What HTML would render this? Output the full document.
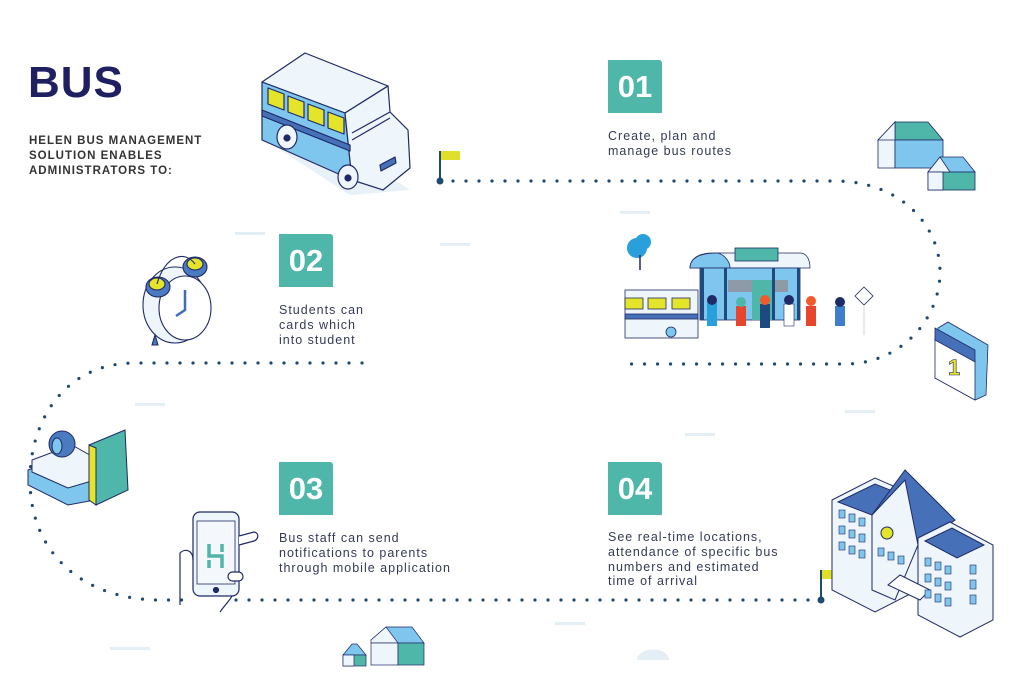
<!DOCTYPE html>
<html><head><meta charset="utf-8"><style>
html,body{margin:0;padding:0;background:#fff;width:1024px;height:676px;overflow:hidden;position:relative;font-family:"Liberation Sans",sans-serif}
.t{position:absolute;color:#353a58;font-size:12.5px;letter-spacing:1px;line-height:14.8px;white-space:nowrap}
.box{position:absolute;width:54px;height:53px;background:#4fb6aa;color:#fff;font-size:31px;font-weight:bold;text-align:center;line-height:53px;border-radius:0 3px 0 0}
</style></head><body>
<svg width="1024" height="676" style="position:absolute;left:0;top:0">
<g fill="none" stroke="#1d4a70" stroke-width="3.2" stroke-linecap="round" stroke-dasharray="0 13">
<path d="M453,181 H835 C900,181 940,225 940,272 C940,320 900,364 845,364 H627"/>
<path d="M362,363 H135 C65,363 30,420 30,480 C30,555 85,600 160,600 H182"/>
<path d="M236,600 H816"/>
</g>
<line x1="440" y1="151" x2="440" y2="181" stroke="#1d4a70" stroke-width="2"/><rect x="441" y="151" width="19" height="9" fill="#dfe02a"/><circle cx="440" cy="181" r="3.5" fill="#1d4a70"/>
<line x1="821" y1="570" x2="821" y2="600" stroke="#1d4a70" stroke-width="2"/><rect x="822" y="570" width="19" height="9" fill="#dfe02a"/><circle cx="821" cy="600" r="3.5" fill="#1d4a70"/>
<g fill="#e3eef5"><rect x="235" y="232" width="30" height="3"/><rect x="440" y="243" width="30" height="3"/><rect x="620" y="211" width="30" height="3"/><rect x="135" y="403" width="30" height="3"/><rect x="685" y="433" width="30" height="3"/><rect x="845" y="410" width="30" height="3"/><rect x="110" y="647" width="40" height="3"/><rect x="555" y="622" width="30" height="3"/><path d="M637,660 a12,8 0 0 1 32,0z"/></g>
<!-- bus -->
<path d="M265,140 L350,195 L410,190 L320,130Z" fill="#e8f0f8"/>
<g stroke="#1f2a66" stroke-width="1.2" stroke-linejoin="round">
<path d="M262,82 L305,53 L388,86 L345,113 Z" fill="#eef5fb"/>
<path d="M262,82 L345,113 L352,180 L262,140 Z" fill="#7fc6ee"/>
<path d="M345,113 L388,86 L390,112 L408,130 L410,168 L383,190 L352,180 Z" fill="#eef5fb"/>
<path d="M352,140 L390,118 M390,112 L352,133" fill="none"/>
<g fill="#e4e52b"><path d="M268,88 L284,94 L284,110 L268,104Z"/><path d="M288,96 L304,102 L304,118 L288,112Z"/><path d="M308,104 L324,110 L324,126 L308,120Z"/><path d="M328,112 L344,118 L344,134 L328,128Z"/></g>
<path d="M262,110 L350,145 L350,151 L262,116Z" fill="#4670b8"/>
<ellipse cx="287" cy="137" rx="10" ry="12" fill="#eef5fb"/><circle cx="287" cy="138" r="3" fill="#1f2a66"/>
<ellipse cx="348" cy="177" rx="10" ry="12" fill="#eef5fb"/><circle cx="348" cy="178" r="3" fill="#1f2a66"/>
<path d="M380,165 L395,157 L396,163 L381,171Z" fill="#4670b8"/>
</g>
<!-- clock -->
<g stroke="#1f2a66" stroke-width="1.1">
<ellipse cx="175" cy="305" rx="32" ry="38" fill="#eef5fb"/>
<ellipse cx="185" cy="308" rx="26" ry="32" fill="#fff"/>
<path d="M185,290 V310 L176,316" stroke="#3d6db6" stroke-width="2.5" fill="none"/>
<ellipse cx="158" cy="287" rx="12" ry="10" fill="#4a7ac0"/><ellipse cx="157" cy="284" rx="8" ry="6" fill="#e4e52b"/>
<ellipse cx="195" cy="267" rx="12" ry="10" fill="#4a7ac0"/><ellipse cx="195" cy="264" rx="8" ry="6" fill="#e4e52b"/>
<path d="M157,284 C165,255 185,250 195,264" fill="none"/>
<path d="M155,335 L152,345 L158,345 Z" fill="#4a7ac0"/>
</g>
<!-- books -->
<g stroke="#1f2a66" stroke-width="1">
<path d="M28,470 L70,455 L95,470 L95,500 L68,505 L28,485Z" fill="#7fc6ee"/>
<path d="M32,460 L72,445 L95,458 L95,480 L68,488 L32,472Z" fill="#eef5fb"/>
<circle cx="62" cy="444" r="13" fill="#4a7ac0"/><ellipse cx="57" cy="446" rx="5" ry="8" fill="#7fc6ee"/>
<path d="M89,445 L125,430 L128,490 L96,505Z" fill="#4fb6aa"/>
<path d="M89,445 L96,448 L96,505 L89,500Z" fill="#e4e52b"/>
</g>
<!-- phone -->
<g stroke="#1f2a66" stroke-width="1.2">
<rect x="193" y="512" width="46" height="84" rx="7" fill="#eef5fb"/>
<rect x="197" y="521" width="38" height="63" fill="#f4f8fc" stroke-width=".8"/>
<circle cx="216" cy="590" r="2.5" fill="#1f2a66"/>
<path d="M239,536 L254,532 C260,533 258,540 254,541 L239,545" fill="#fff"/>
<rect x="228" y="572" width="15" height="9" rx="4.5" fill="#fff"/>
<path d="M180,605 V553 C185,548 193,550 193,560" fill="none"/>
<path d="M220,612 C225,605 230,600 232,596" fill="none"/>
</g>
<path d="M209,544 V556 H222 V568 M209,560 V568 M222,544 V552" stroke="#4fb6aa" stroke-width="3.5" fill="none"/>
<!-- houses top right -->
<g stroke="#1f2a66" stroke-width=".8">
<path d="M878,140 L895,122 L895,168 L878,168Z" fill="#eef5fb"/>
<path d="M895,122 L928,122 L943,140 L895,140Z" fill="#4fb6aa"/>
<path d="M895,140 L878,140 L895,122Z" fill="#eef5fb"/>
<rect x="895" y="140" width="48" height="28" fill="#7fc6ee"/>
<path d="M928,172 L940,157 L963,157 L975,172Z" fill="#7fc6ee"/>
<rect x="928" y="172" width="47" height="18" fill="#4fb6aa"/>
<path d="M928,172 L940,157 L950,172Z" fill="#eef5fb"/>
<rect x="928" y="172" width="15" height="18" fill="#eef5fb"/>
</g>
<!-- bus stop -->
<g stroke="#1f2a66" stroke-width=".8">
<circle cx="637" cy="248" r="10" fill="#29a0dc" stroke="none"/><circle cx="643" cy="242" r="8" fill="#29a0dc" stroke="none"/>
<line x1="640" y1="255" x2="640" y2="270" stroke-width="1.5"/>
<path d="M690,268 C690,258 700,253 712,253 H800 C808,253 810,262 810,268Z" fill="#eef5fb"/>
<path d="M690,268 C690,258 700,253 718,253 C725,255 730,262 730,268Z" fill="#7fc6ee"/>
<rect x="735" y="248" width="43" height="13" fill="#4fb6aa"/>
<rect x="700" y="268" width="100" height="52" fill="#7fc6ee"/>
<rect x="728" y="280" width="60" height="12" fill="#8f9aa8" stroke="none"/>
<rect x="752" y="280" width="20" height="40" fill="#4fb6aa" stroke="none"/>
<g fill="#1f4a80" stroke="none"><rect x="700" y="268" width="4" height="52"/><rect x="724" y="268" width="3" height="52"/><rect x="772" y="268" width="3" height="52"/><rect x="797" y="268" width="3" height="52"/></g>
<rect x="625" y="290" width="73" height="48" fill="#eef5fb"/>
<g fill="#e4e52b"><rect x="625" y="298" width="18" height="11"/><rect x="648" y="298" width="18" height="11"/><rect x="672" y="298" width="18" height="11"/></g>
<rect x="625" y="314" width="73" height="5" fill="#4670b8"/>
<circle cx="671" cy="332" r="5" fill="#7fc6ee"/>
<path d="M864,287 L873,296 L864,305 L855,296Z" fill="#fff"/><line x1="864" y1="305" x2="864" y2="335" stroke="#ccc"/>
</g>
<g stroke="none">
<rect x="707" y="302" width="10" height="24" fill="#29a0dc"/><circle cx="712" cy="300" r="5" fill="#1f2a66"/>
<rect x="736" y="306" width="10" height="20" fill="#e8452d"/><circle cx="741" cy="302" r="5" fill="#4fb6aa"/>
<rect x="760" y="304" width="10" height="24" fill="#1f4a80"/><circle cx="765" cy="300" r="5" fill="#f05a2c"/>
<rect x="784" y="304" width="10" height="22" fill="#fff" stroke="#1f2a66" stroke-width=".6"/><circle cx="789" cy="300" r="5" fill="#1f2a66"/>
<rect x="806" y="306" width="10" height="20" fill="#e8452d"/><circle cx="811" cy="301" r="5" fill="#f05a2c"/>
<rect x="835" y="306" width="10" height="20" fill="#3d7fcc"/><circle cx="840" cy="302" r="5" fill="#1f2a66"/>
</g>
<!-- calendar -->
<g stroke="#1f2a66" stroke-width=".8">
<path d="M938,328 L948,322 L988,345 L986,395 L975,400 L935,378Z" fill="#7fc6ee"/>
<path d="M935,338 L975,360 L975,400 L935,378Z" fill="#fff"/>
<path d="M935,328 L975,350 L975,362 L935,340Z" fill="#4670b8"/>
<text x="948" y="375" font-size="22" font-weight="bold" fill="#e4e52b" stroke="#1f2a66" stroke-width=".6">1</text>
</g>
<!-- school -->
<g stroke="#1f2a66" stroke-width="1">
<path d="M832,500 L875,478 L918,497 L918,590 L875,612 L832,590Z" fill="#eef5fb"/>
<path d="M838,502 L875,484 L910,498 L872,515Z" fill="#4670b8"/>
<path d="M872,515 L905,470 L955,520 L920,545Z" fill="#4670b8"/>
<path d="M872,515 L905,480 L918,545 L895,600 L872,590Z" fill="#eef5fb"/>
<circle cx="887" cy="533" r="6" fill="#e4e52b"/>
<path d="M918,538 L950,522 L993,545 L993,620 L960,637 L918,615Z" fill="#eef5fb"/>
<path d="M925,541 L952,528 L984,545 L957,558Z" fill="#4670b8"/>
<path d="M900,575 L930,590 L920,600 L888,585Z" fill="#fff"/>
<g fill="#7fc6ee" stroke-width=".6">
<rect x="839" y="510" width="6" height="8"/><rect x="849" y="514" width="6" height="8"/><rect x="859" y="518" width="6" height="8"/>
<rect x="839" y="526" width="6" height="8"/><rect x="849" y="530" width="6" height="8"/><rect x="859" y="534" width="6" height="8"/>
<rect x="839" y="542" width="6" height="8"/><rect x="849" y="546" width="6" height="8"/><rect x="859" y="550" width="6" height="8"/>
<rect x="878" y="548" width="6" height="8"/><rect x="888" y="552" width="6" height="8"/><rect x="898" y="556" width="6" height="8"/>
<rect x="925" y="558" width="6" height="8"/><rect x="935" y="562" width="6" height="8"/><rect x="945" y="566" width="6" height="8"/>
<rect x="925" y="574" width="6" height="8"/><rect x="935" y="578" width="6" height="8"/><rect x="945" y="582" width="6" height="8"/>
<rect x="925" y="590" width="6" height="8"/><rect x="935" y="594" width="6" height="8"/><rect x="945" y="598" width="6" height="8"/>
<rect x="970" y="565" width="6" height="9"/><rect x="970" y="580" width="6" height="9"/><rect x="970" y="595" width="6" height="9"/>
</g>
</g>
<g stroke="#1f2a66" stroke-width=".7">
<path d="M343,655 L352,644 L357,644 L366,655Z" fill="#7fc6ee"/>
<rect x="343" y="655" width="23" height="11" fill="#4fb6aa"/><rect x="343" y="655" width="11" height="11" fill="#eef5fb"/>
<path d="M371,640 L386,627 L412,627 L424,643 L386,643Z" fill="#7fc6ee"/>
<path d="M371,640 L386,627 L398,643 L371,643Z" fill="#eef5fb"/>
<rect x="371" y="643" width="27" height="22" fill="#eef5fb"/><rect x="398" y="643" width="26" height="22" fill="#4fb6aa"/>
</g>
</svg>
<div style="position:absolute;left:28px;top:58px;font-size:44px;font-weight:bold;color:#1f2061;letter-spacing:1px">BUS</div>
<div class="t" style="left:29px;top:134px;font-weight:bold;font-size:11.5px;color:#333;line-height:15px">HELEN BUS MANAGEMENT<br>SOLUTION ENABLES<br>ADMINISTRATORS TO:</div>
<div class="box" style="left:608px;top:60px">01</div>
<div class="t" style="left:608px;top:129px">Create, plan and<br>manage bus routes</div>
<div class="box" style="left:279px;top:234px">02</div>
<div class="t" style="left:279px;top:303px">Students can<br>cards which<br>into student</div>
<div class="box" style="left:279px;top:462px">03</div>
<div class="t" style="left:279px;top:531px">Bus staff can send<br>notifications to parents<br>through mobile application</div>
<div class="box" style="left:608px;top:462px">04</div>
<div class="t" style="left:608px;top:530px">See real-time locations,<br>attendance of specific bus<br>numbers and estimated<br>time of arrival</div>
</body></html>
